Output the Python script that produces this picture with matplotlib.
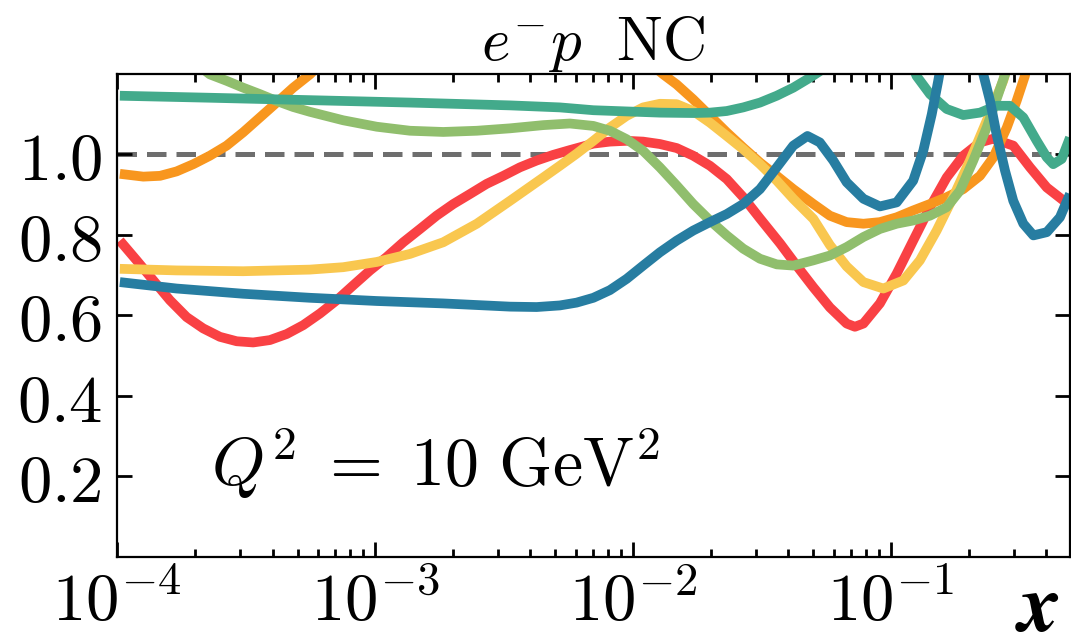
import numpy as np
import matplotlib
matplotlib.use("Agg")
import matplotlib.pyplot as plt
from matplotlib.ticker import FixedLocator, FixedFormatter, LogLocator, NullFormatter

plt.rcParams['mathtext.fontset'] = 'cm'
plt.rcParams['font.family'] = ['DejaVu Serif']

# ---- data: log10(x) and ratio values ----
red_lx = [-3.990, -3.925, -3.860, -3.796, -3.731, -3.667, -3.602, -3.537, -3.473, -3.408,
          -3.343, -3.279, -3.214, -3.149, -3.085, -3.020, -2.956, -2.891, -2.826, -2.762,
          -2.697, -2.632, -2.568, -2.503, -2.439, -2.374, -2.310, -2.245, -2.154, -2.090,
          -2.025, -1.961, -1.896, -1.831, -1.767, -1.702, -1.637, -1.573, -1.508, -1.430,
          -1.366, -1.301, -1.237, -1.172, -1.140, -1.107, -1.043, -0.978, -0.914, -0.849,
          -0.784, -0.720, -0.655, -0.605, -0.526, -0.461, -0.396, -0.306]
red_y = [0.786, 0.737, 0.687, 0.638, 0.596, 0.568, 0.547, 0.536, 0.533, 0.539,
         0.554, 0.576, 0.605, 0.638, 0.675, 0.712, 0.745, 0.782, 0.815, 0.848,
         0.877, 0.902, 0.927, 0.947, 0.968, 0.985, 0.999, 1.011, 1.027, 1.032,
         1.034, 1.032, 1.026, 1.016, 0.997, 0.972, 0.939, 0.894, 0.841, 0.779,
         0.724, 0.670, 0.620, 0.580, 0.572, 0.580, 0.630, 0.704, 0.786, 0.869,
         0.943, 0.997, 1.030, 1.039, 1.022, 0.968, 0.918, 0.873]

orange_lx = [-3.990, -3.899, -3.834, -3.770, -3.705, -3.641, -3.576, -3.512, -3.447, -3.382,
             -3.318, -3.253, -3.190, -2.600, -1.960, -1.883, -1.831, -1.767, -1.702, -1.637,
             -1.573, -1.508, -1.443, -1.379, -1.301, -1.237, -1.172, -1.107, -1.043, -0.978,
             -0.914, -0.849, -0.784, -0.720, -0.655, -0.603, -0.551, -0.513, -0.481, -0.450,
             -0.306]
orange_y = [0.952, 0.945, 0.947, 0.958, 0.976, 0.997, 1.022, 1.055, 1.092, 1.129,
            1.166, 1.199, 1.240, 1.550, 1.240, 1.199, 1.174, 1.137, 1.096, 1.055,
            1.017, 0.980, 0.947, 0.914, 0.877, 0.848, 0.832, 0.828, 0.832, 0.844,
            0.861, 0.877, 0.894, 0.914, 0.947, 0.993, 1.067, 1.133, 1.195, 1.280,
            1.700]

yellow_lx = [-3.990, -3.770, -3.512, -3.253, -3.124, -2.994, -2.865, -2.736, -2.606, -2.477,
             -2.348, -2.284, -2.219, -2.154, -2.090, -2.025, -1.961, -1.896, -1.831, -1.767,
             -1.702, -1.637, -1.573, -1.508, -1.443, -1.379, -1.301, -1.237, -1.172, -1.107,
             -1.030, -0.952, -0.888, -0.823, -0.759, -0.694, -0.629, -0.565, -0.530, -0.306]
yellow_y = [0.716, 0.712, 0.710, 0.714, 0.720, 0.733, 0.753, 0.782, 0.828, 0.885,
            0.943, 0.972, 1.002, 1.034, 1.067, 1.096, 1.117, 1.126, 1.125, 1.108,
            1.079, 1.046, 1.013, 0.976, 0.935, 0.890, 0.840, 0.775, 0.722, 0.683,
            0.667, 0.687, 0.737, 0.811, 0.894, 0.985, 1.084, 1.183, 1.260, 1.700]

green_lx = [-4.000, -3.800, -3.641, -3.576, -3.512, -3.447, -3.382, -3.318, -3.253, -3.124,
            -2.994, -2.865, -2.736, -2.606, -2.477, -2.348, -2.245, -2.154, -2.090, -2.025,
            -1.961, -1.896, -1.831, -1.767, -1.702, -1.637, -1.573, -1.508, -1.443, -1.379,
            -1.301, -1.237, -1.172, -1.107, -1.043, -0.978, -0.914, -0.849, -0.784, -0.733,
            -0.681, -0.629, -0.584, -0.558, -0.530, -0.306]
green_y = [1.450, 1.280, 1.199, 1.183, 1.166, 1.150, 1.133, 1.118, 1.106, 1.085,
           1.069, 1.059, 1.056, 1.059, 1.065, 1.073, 1.077, 1.071, 1.059, 1.038,
           1.009, 0.968, 0.923, 0.877, 0.836, 0.799, 0.766, 0.741, 0.727, 0.724,
           0.737, 0.749, 0.770, 0.795, 0.815, 0.828, 0.836, 0.848, 0.869, 0.910,
           0.985, 1.067, 1.150, 1.199, 1.270, 1.700]

teal_lx = [-3.990, -3.641, -3.253, -2.865, -2.477, -2.284, -2.154, -2.025, -1.896, -1.767,
           -1.702, -1.637, -1.573, -1.508, -1.443, -1.379, -1.314, -1.276, -1.150, -1.000,
           -0.901, -0.849, -0.784, -0.720, -0.655, -0.591, -0.539, -0.487, -0.435, -0.396,
           -0.371, -0.338, -0.306]
teal_y = [1.146, 1.141, 1.135, 1.129, 1.122, 1.117, 1.110, 1.107, 1.104, 1.103,
          1.104, 1.108, 1.117, 1.129, 1.146, 1.166, 1.191, 1.207, 1.380, 1.350,
          1.195, 1.150, 1.113, 1.098, 1.104, 1.121, 1.121, 1.092, 1.034, 0.993,
          0.976, 0.989, 1.042]

blue_lx = [-3.990, -3.770, -3.512, -3.253, -2.994, -2.736, -2.477, -2.374, -2.284, -2.219,
           -2.154, -2.090, -2.025, -1.961, -1.896, -1.831, -1.767, -1.702, -1.637, -1.573,
           -1.508, -1.443, -1.379, -1.324, -1.276, -1.224, -1.172, -1.107, -1.043, -0.978,
           -0.914, -0.875, -0.842, -0.817, -0.790, -0.725, -0.670, -0.642, -0.616, -0.591,
           -0.558, -0.526, -0.487, -0.448, -0.396, -0.345, -0.306]
blue_y = [0.683, 0.667, 0.654, 0.644, 0.636, 0.630, 0.622, 0.621, 0.625, 0.632,
          0.644, 0.663, 0.691, 0.724, 0.757, 0.786, 0.811, 0.832, 0.852, 0.877,
          0.914, 0.968, 1.022, 1.046, 1.030, 0.985, 0.931, 0.890, 0.871, 0.881,
          0.935, 1.009, 1.100, 1.183, 1.280, 1.340, 1.280, 1.199, 1.133, 1.051,
          0.960, 0.885, 0.828, 0.799, 0.807, 0.844, 0.902]

series = [
    (red_lx, red_y, '#f94144'),
    (orange_lx, orange_y, '#f8961e'),
    (yellow_lx, yellow_y, '#f9c74f'),
    (green_lx, green_y, '#90be6d'),
    (teal_lx, teal_y, '#43aa8b'),
    (blue_lx, blue_y, '#277da1'),
]

xtick_vals = [1e-4, 1e-3, 1e-2, 1e-1]
xtick_labels = [r'$10^{-4}$', r'$10^{-3}$', r'$10^{-2}$', r'$10^{-1}$']
ytick_vals = [0.2, 0.4, 0.6, 0.8, 1.0]
ytick_labels = [r'$0.2$', r'$0.4$', r'$0.6$', r'$0.8$', r'$1.0$']

# ---- figure ----
fig = plt.figure(figsize=(10.71, 6.44), dpi=100)
ax = fig.add_axes([0.1095, 0.1351, 0.8895, 0.750])

ax.axhline(1.0, color='#6e6e6e', lw=3.6, ls=(0, (3.9, 2.0)), zorder=1)
for lx, y, c in series:
    ax.plot(np.power(10.0, lx), y, color=c, lw=7.0, solid_joinstyle='round',
            solid_capstyle='butt', zorder=2)

ax.set_xscale('log')
ax.set_xlim(1e-4, 0.494)
ax.set_ylim(0, 1.2)

ax.xaxis.set_major_locator(FixedLocator(xtick_vals))
ax.xaxis.set_major_formatter(FixedFormatter(xtick_labels))
ax.xaxis.set_minor_locator(LogLocator(base=10, subs=np.arange(2, 10), numticks=20))
ax.xaxis.set_minor_formatter(NullFormatter())
ax.yaxis.set_major_locator(FixedLocator(ytick_vals))
ax.yaxis.set_major_formatter(FixedFormatter(ytick_labels))

ax.tick_params(which='both', direction='in', top=True, right=True, width=2.0)
ax.tick_params(which='major', length=11, labelsize=48)
ax.tick_params(which='minor', length=5.5)
ax.tick_params(axis='y', pad=11)
ax.tick_params(axis='x', pad=9)
for s in ax.spines.values():
    s.set_linewidth(1.6)

ax.set_title(r'$e^{-}p\ \ \mathrm{NC}$', fontsize=44, pad=6)
ax.text(0.098, 0.146, r'$Q^2\;=\;10\ \mathrm{GeV}^2$', transform=ax.transAxes,
        fontsize=49, ha='left', va='baseline')

ax.set_xlabel(r'$\mathbfit{x}$', fontsize=60, math_fontfamily='stix',
              va='center', ha='center')
ax.xaxis.set_label_coords(0.966, -0.106)

fig.savefig('out.png', dpi=100)
